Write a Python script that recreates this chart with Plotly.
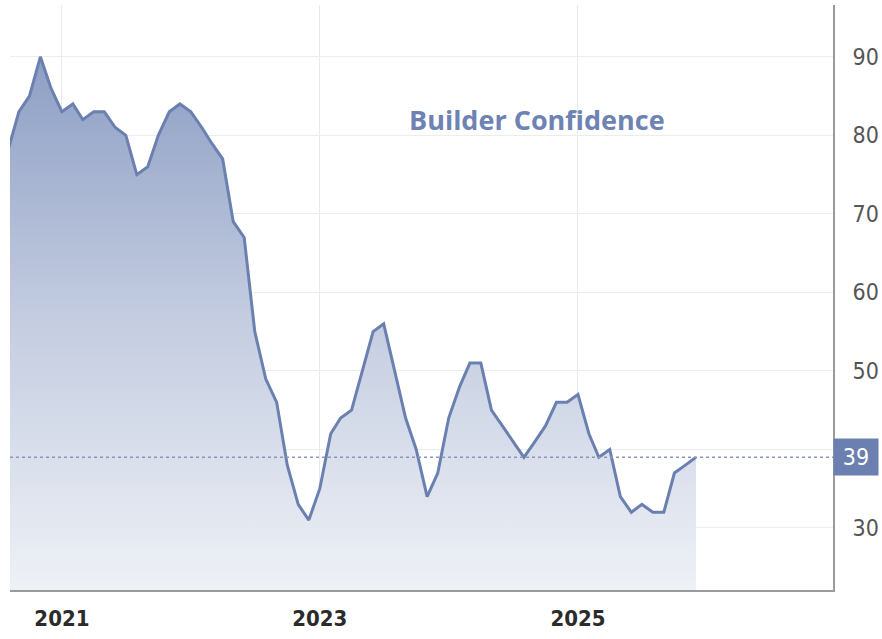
import pandas as pd
import plotly.graph_objects as go

# Monthly NAHB builder confidence, Aug 2020 - Dec 2025
months = pd.date_range("2020-08-01", "2025-12-01", freq="MS")
values = [
    78, 83, 85, 90, 86,
    83, 84, 82, 83, 83, 81, 80, 75, 76, 80, 83, 84,
    83, 81, 79, 77, 69, 67, 55, 49, 46, 38, 33, 31,
    35, 42, 44, 45, 50, 55, 56, 50, 44, 40, 34, 37,
    44, 48, 51, 51, 45, 43, 41, 39, 41, 43, 46, 46,
    47, 42, 39, 40, 34, 32, 33, 32, 32, 37, 38, 39,
]
y_ticks = [30, 40, 50, 60, 70, 80, 90]
y_ticktext = ["30", "", "50", "60", "70", "80", "90"]
x_ticks = ["2021-01-01", "2023-01-01", "2025-01-01"]
x_ticktext = ["2021", "2023", "2025"]
title_text = "Builder Confidence"
last_value = values[-1]

line_color = "#6b80b0"
tick_font = "DejaVu Sans Condensed, Roboto, sans-serif"

fig = go.Figure()
fig.add_trace(go.Scatter(
    x=months, y=values, mode="lines",
    line=dict(color=line_color, width=3),
    fill="tozeroy",
    fillgradient=dict(type="vertical", start=22, stop=92,
                      colorscale=[[0, "#eef1f6"], [0.5, "#c3cce0"], [1, "#8a9cc3"]]),
    hoverinfo="x+y", showlegend=False,
))

fig.add_shape(type="line", xref="paper", x0=0, x1=1, yref="y", y0=last_value, y1=last_value,
              line=dict(color="#8a97b8", width=1.5, dash="dot"), layer="above")

fig.add_annotation(xref="paper", x=1, yref="y", y=last_value, xanchor="left", yanchor="middle",
                   text=str(last_value), showarrow=False,
                   font=dict(family=tick_font, size=23, color="white"),
                   bgcolor="#6b80b0", borderpad=2, width=40, height=32, align="center")

fig.add_annotation(xref="paper", x=0.64, yref="paper", y=0.84, text="<b>" + title_text + "</b>",
                   showarrow=False, font=dict(family="Open Sans", size=27, color="#6e83b3"))

fig.update_layout(
    width=882, height=639,
    margin=dict(l=10, r=49, t=5, b=49),
    paper_bgcolor="white", plot_bgcolor="white",
    xaxis=dict(
        type="date", range=["2020-08-07", "2026-12-24"],
        tickvals=x_ticks, ticktext=x_ticktext,
        showgrid=True, gridcolor="#e9e9e9", gridwidth=1,
        showline=True, linecolor="#9a9a9a", linewidth=2,
        ticks="", ticklabelstandoff=8,
        tickfont=dict(family=tick_font, size=22, color="#2b2b2b", weight="bold"),
        zeroline=False,
    ),
    yaxis=dict(
        side="right", range=[22.1, 96.6],
        tickvals=y_ticks, ticktext=y_ticktext,
        showgrid=True, gridcolor="#ececec", gridwidth=1,
        showline=True, linecolor="#9a9a9a", linewidth=2,
        ticks="", ticklabelstandoff=13,
        tickfont=dict(family=tick_font, size=23, color="#555555"),
        zeroline=False, automargin=False,
    ),
)

fig.write_html("out.html", config={"displayModeBar": False},
               post_script="document.body.style.margin='0';")
